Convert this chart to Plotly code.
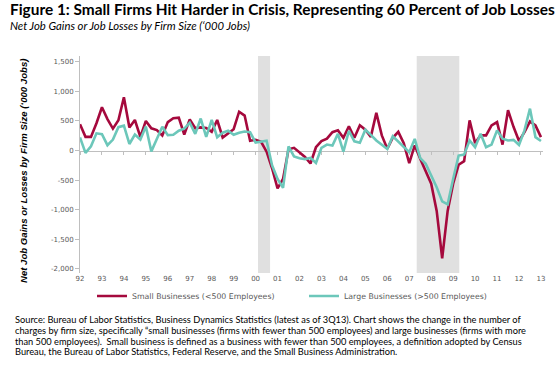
import plotly.graph_objects as go

# ---------------- data ----------------
quarters = [1992 + q / 4 for q in range(85)]  # 1992Q1 .. 2013Q1

small_biz = [
    445, 230, 230, 460, 730, 530, 370, 510, 900, 390, 515, 230,
    500, 375, 345, 255, 480, 545, 555, 270, 525, 375, 390, 380,
    315, 515, 220, 290, 360, 655, 590, 165, 180, 145, -20, -300,
    -640, -480, 20, 45, -30, -110, -220, 55, 160, 200, 310, 340,
    215, 410, 215, 425, 350, 230, 635, 255, 30, 215, 315, 125,
    -215, 85, -140, -340, -560, -1020, -1820, -1020, -560, -240, -180, 510,
    125, 255, 255, 425, 480, 100, 680, 400, 160, 310, 490, 425,
    226,
]

large_biz = [
    220, -40, 70, 290, 275, 90, 185, 395, 420, 110, 268, 185,
    405, -15, 195, 400, 260, 265, 335, 370, 470, 280, 540, 230,
    515, 225, 300, 335, 265, 300, 320, 310, 135, 145, 165, -250,
    -480, -630, 70, -100, -130, -145, -125, -210, 45, 100, 85, 280,
    -20, 330, 155, 130, 350, 265, 170, 96, 25, 240, 150, 56,
    -30, 195, -130, -225, -410, -620, -860, -910, -480, -85, -70, 170,
    57, 283, 57, 100, 340, 200, 170, 180, 95, 340, 707, 226,
    160,
]

year_ticks = list(range(1992, 2014))
year_labels = ["92", "93", "94", "95", "96", "97", "98", "99", "00", "01", "02",
               "03", "04", "05", "06", "07", "08", "09", "10", "11", "12", "13"]

y_ticks = [-2000, -1500, -1000, -500, 0, 500, 1000, 1500]
y_labels = ["-2,000", "-1,500", "-1,000", "-500", "0", "500", "1,000", "1,500"]

recessions = [(2000.11, 2000.66), (2007.34, 2009.28)]

series_names = ["Small Businesses (<500 Employees)", "Large Businesses (>500 Employees)"]

title_text = "Figure 1: Small Firms Hit Harder in Crisis, Representing 60 Percent of Job Losses"
subtitle_text = "Net Job Gains or Job Losses by Firm Size (\u2018000 Jobs)"
ytitle_text = "Net Job Gains or Losses by Firm Size (\u2018000 Jobs)"
source_lines = [
    "Source: Bureau of Labor Statistics, Business Dynamics Statistics (latest as of 3Q13). Chart shows the change in the number of",
    "charges by firm size, specifically \u201csmall businesses (firms with fewer than 500 employees) and large businesses (firms with more",
    "than 500 employees).  Small business is defined as a business with fewer than 500 employees, a definition adopted by Census",
    "Bureau, the Bureau of Labor Statistics, Federal Reserve, and the Small Business Administration.",
]

# ---------------- layout geometry ----------------
W, H = 560, 368
PL, PR, PT, PB = 80, 543, 56, 273   # plot area in pixels
XR = [1992, 1992 + (PR - PL) / 21.95]
Y_TOP = (150.5 - PT) / 0.0592
Y_BOT = -(PB - 150.5) / 0.0592
YR = [Y_BOT, Y_TOP]


def px_x(px):
    return (px - PL) / (PR - PL)


def px_y(py):
    return (PB - py) / (PB - PT)


RED = "#A5093D"
TEAL = "#6CC7BA"
GRAY_TXT = "#595959"
AXIS_GRAY = "#BFBFBF"
TICK_FONT = dict(family="DejaVu Sans", size=7, color=GRAY_TXT)

fig = go.Figure()

fig.add_trace(go.Scatter(x=quarters, y=small_biz, mode="lines", name=series_names[0],
                         line=dict(color=RED, width=2.6)))
fig.add_trace(go.Scatter(x=quarters, y=large_biz, mode="lines", name=series_names[1],
                         line=dict(color=TEAL, width=2.6)))

for x0, x1 in recessions:
    fig.add_shape(type="rect", xref="x", yref="paper", x0=x0, x1=x1, y0=0, y1=1,
                  fillcolor="#E0E0E0", line=dict(width=0), layer="below")

zero_pos = (0 - YR[0]) / (YR[1] - YR[0])

fig.update_layout(
    width=W, height=H,
    margin=dict(l=PL, r=W - PR, t=PT, b=H - PB, pad=0),
    paper_bgcolor="white", plot_bgcolor="white",
    showlegend=True,
    legend=dict(orientation="h", x=px_x(92), xanchor="left", y=px_y(296), yanchor="middle",
                font=dict(family="DejaVu Sans", size=7.8, color=GRAY_TXT),
                itemwidth=30, entrywidth=167, entrywidthmode="pixels",
                tracegroupgap=0, bgcolor="rgba(0,0,0,0)"),
    xaxis=dict(range=XR, tickmode="array", tickvals=year_ticks, ticktext=year_labels,
               showline=False, showgrid=False, zeroline=False, ticks="",
               tickfont=TICK_FONT),
    xaxis2=dict(range=XR, overlaying="x", anchor="free", position=zero_pos, side="bottom",
                tickmode="array", tickvals=year_ticks, showticklabels=False,
                showline=True, linecolor=AXIS_GRAY, linewidth=1,
                ticks="outside", ticklen=3, tickcolor=AXIS_GRAY,
                showgrid=False, zeroline=False, layer="below traces"),
    yaxis=dict(range=YR, tickmode="array", tickvals=y_ticks, ticktext=y_labels,
               showline=True, linecolor=AXIS_GRAY, linewidth=1,
               ticks="outside", ticklen=4, tickcolor=AXIS_GRAY,
               showgrid=False, zeroline=False, tickfont=TICK_FONT),
)

# invisible trace to activate xaxis2
fig.add_trace(go.Scatter(x=[XR[0]], y=[0], xaxis="x2", mode="markers",
                         marker=dict(opacity=0), showlegend=False, hoverinfo="skip"))

header = ("<span style='font-size:15.4px'><b>" + title_text + "</b></span><br>"
          "<i>" + subtitle_text + "</i>")

annotations = [
    dict(text=header, x=px_x(9), y=px_y(16), xanchor="left", yanchor="middle", align="left",
         font=dict(family="Lato", size=11.3, color="black"), borderpad=0),
    dict(text="<b><i>" + ytitle_text + "</i></b>", x=px_x(23), y=px_y(171), xanchor="center",
         yanchor="middle", textangle=-90,
         font=dict(family="Liberation Sans, Arial", size=9.6, color="black")),
]
for i, (line, yc) in enumerate(zip(source_lines, [319.5, 330.3, 341.0, 351.8])):
    annotations.append(dict(text=line, x=px_x(13), y=px_y(yc), xanchor="left", yanchor="middle",
                            font=dict(family="Lato", size=9.25, color="black")))

for a in annotations:
    a.update(xref="paper", yref="paper", showarrow=False)
fig.update_layout(annotations=annotations)

fig.write_html("out.html", config={"displayModeBar": False},
               post_script="document.body.style.margin='0';document.body.style.padding='0';")
